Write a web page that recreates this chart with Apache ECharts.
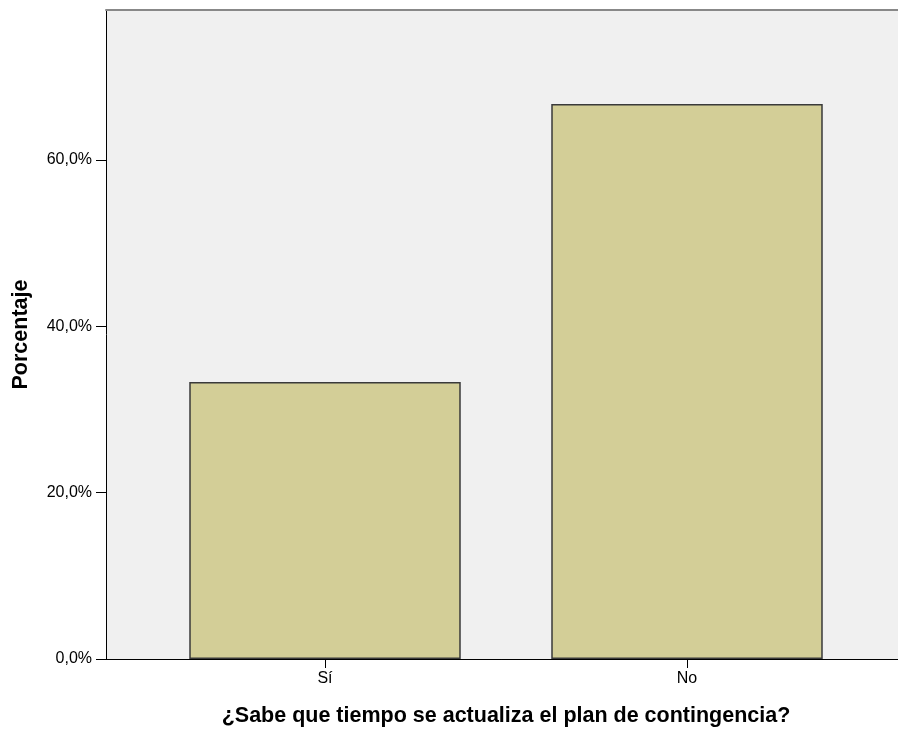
<!DOCTYPE html>
<html><head><meta charset="utf-8">
<script src="https://cdn.jsdelivr.net/npm/echarts@6/dist/echarts.min.js"></script>
<style>html,body{margin:0;padding:0;background:#fff}#c{width:898px;height:729px}</style>
</head><body><div id="c"></div>
<script>
const categories = ['Sí', 'No'];
const values = [33.3, 66.7];
const yTicks = [0, 20, 40, 60];
const xTitle = '¿Sabe que tiempo se actualiza el plan de contingencia?';
const yTitle = 'Porcentaje';

const chart = echarts.init(document.getElementById('c'), null, {renderer: 'canvas'});
const font = '"Liberation Sans", Arial, sans-serif';
chart.setOption({
  animation: false,
  grid: [
    {left: 106, right: 0, top: 10, bottom: 70, show: true, backgroundColor: '#f0f0f0', borderWidth: 0, outerBoundsMode: 'none', containLabel: false},
    {left: 144, right: 30, top: 10, bottom: 70, outerBoundsMode: 'none', containLabel: false}
  ],
  xAxis: [
    {gridIndex: 0, type: 'value', min: 0, max: 1, position: 'bottom',
     axisLine: {show: true, lineStyle: {color: '#000', width: 1}}, axisTick: {show: false},
     axisLabel: {show: false}, splitLine: {show: false}},
    {gridIndex: 0, type: 'value', min: 0, max: 1, position: 'top',
     axisLine: {show: true, lineStyle: {color: '#888', width: 2}}, axisTick: {show: false},
     axisLabel: {show: false}, splitLine: {show: false}},
    {gridIndex: 1, type: 'category', data: categories, position: 'bottom',
     axisLine: {show: false},
     axisTick: {show: true, alignWithLabel: true, length: 9, lineStyle: {color: '#000'}},
     axisLabel: {color: '#000', fontFamily: font, fontSize: 16, margin: 12},
     name: xTitle, nameLocation: 'middle', nameGap: 46,
     nameTextStyle: {color: '#000', fontFamily: font, fontSize: 21.5, fontWeight: 'bold'}}
  ],
  yAxis: [
    {gridIndex: 0, type: 'value', min: 0, max: 78, interval: 20,
     axisLine: {show: true, lineStyle: {color: '#000'}},
     axisTick: {show: true, length: 10, lineStyle: {color: '#000'}, customValues: yTicks},
     axisLabel: {color: '#000', fontFamily: font, fontSize: 16, margin: 14,
       customValues: yTicks,
       formatter: v => v.toFixed(1).replace('.', ',') + '%'},
     splitLine: {show: false},
     name: yTitle, nameLocation: 'middle', nameGap: 74, nameRotate: 90,
     nameTextStyle: {color: '#000', fontFamily: font, fontSize: 21.5, fontWeight: 'bold'}},
    {gridIndex: 1, type: 'value', min: 0, max: 78, show: false}
  ],
  series: [{
    type: 'bar', xAxisIndex: 2, yAxisIndex: 1, data: values, barWidth: '75%',
    itemStyle: {color: '#d3ce97', borderColor: '#3a3a3a', borderWidth: 1.5}
  }]
});
</script></body></html>
